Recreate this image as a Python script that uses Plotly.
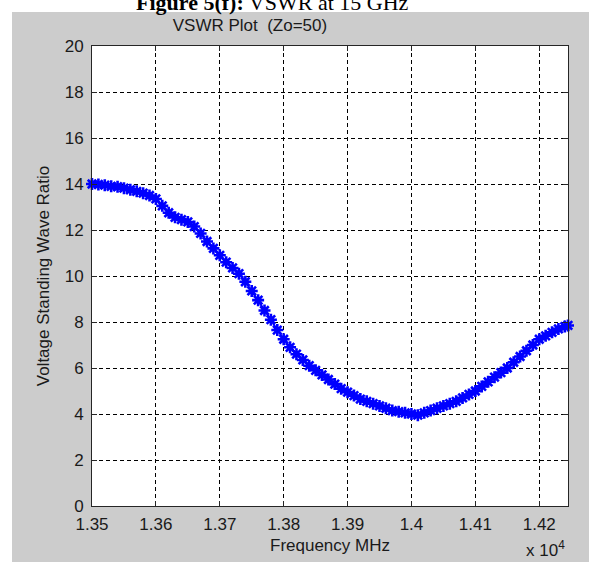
import plotly.graph_objects as go

# ---- data ----
freq_mhz = [13500, 13510, 13520, 13530, 13540, 13550, 13560, 13570, 13580, 13590,
            13600, 13610, 13620, 13630, 13640, 13650, 13660, 13670, 13680, 13690,
            13700, 13710, 13720, 13730, 13740, 13750, 13760, 13770, 13780, 13790,
            13800, 13810, 13820, 13830, 13840, 13850, 13860, 13870, 13880, 13890,
            13900, 13910, 13920, 13930, 13940, 13950, 13960, 13970, 13980, 13990,
            14000, 14010, 14020, 14030, 14040, 14050, 14060, 14070, 14080, 14090,
            14100, 14110, 14120, 14130, 14140, 14150, 14160, 14170, 14180, 14190,
            14200, 14210, 14220, 14230, 14240, 14245]
vswr = [14.0, 13.98, 13.95, 13.9, 13.88, 13.82, 13.75, 13.68, 13.6, 13.5,
        13.35, 13.05, 12.75, 12.55, 12.45, 12.35, 12.15, 11.85, 11.5, 11.2,
        10.9, 10.6, 10.35, 10.1, 9.75, 9.35, 8.95, 8.5, 8.1, 7.65,
        7.25, 6.9, 6.6, 6.35, 6.1, 5.9, 5.7, 5.5, 5.3, 5.1,
        4.95, 4.8, 4.65, 4.55, 4.45, 4.35, 4.25, 4.15, 4.1, 4.05,
        4.0, 3.95, 4.05, 4.15, 4.25, 4.35, 4.45, 4.55, 4.7, 4.85,
        5.0, 5.2, 5.4, 5.6, 5.8, 6.0, 6.25, 6.5, 6.75, 7.0,
        7.25, 7.4, 7.55, 7.7, 7.8, 7.85]
x_tick_vals = [13500, 13600, 13700, 13800, 13900, 14000, 14100, 14200]
x_tick_text = ["1.35", "1.36", "1.37", "1.38", "1.39", "1.4", "1.41", "1.42"]
y_tick_vals = [0, 2, 4, 6, 8, 10, 12, 14, 16, 18, 20]

# ---- layout geometry (pixels) ----
W, H = 589, 562
L, R, T, B = 92, 568, 46, 506
PW, PH = R - L, B - T


def px(x):
    return (x - L) / PW


def py(y):
    return (B - y) / PH


FONT = "Liberation Sans, Arial, sans-serif"
GRAY = "#cccccc"
TXT = "#1a1a1a"
FS = 17

fig = go.Figure()
fig.add_trace(go.Scatter(
    x=freq_mhz, y=vswr,
    mode="lines+markers",
    line=dict(color="#0000ff", width=2),
    marker=dict(symbol="asterisk-open", size=10,
                line=dict(color="#0000ff", width=2.6), color="#0000ff"),
    cliponaxis=False,
    showlegend=False,
))

axis_common = dict(
    showline=True, linecolor="#262626", linewidth=1, mirror="ticks",
    ticks="inside", ticklen=5, tickcolor="#262626", tickwidth=1,
    showgrid=True, gridcolor="#000000", gridwidth=1, griddash="4px,3px",
    zeroline=False,
    tickfont=dict(family=FONT, size=FS, color=TXT),
)

fig.update_layout(
    width=W, height=H,
    margin=dict(l=L, r=W - R, t=T, b=H - B, pad=0),
    paper_bgcolor=GRAY,
    plot_bgcolor="#ffffff",
    title=dict(text="VSWR Plot\u00a0\u00a0(Zo=50)", x=px(294), xanchor="center",
               y=1 - 25 / H, yanchor="middle",
               font=dict(family=FONT, size=FS, color=TXT)),
    xaxis=dict(range=[13500, 14245], tickvals=x_tick_vals, ticktext=x_tick_text,
               ticklabelstandoff=3,
               title=dict(text="Frequency MHz", standoff=5,
                          font=dict(family=FONT, size=FS, color=TXT)),
               **axis_common),
    yaxis=dict(range=[0, 20], tickvals=y_tick_vals, ticklabelstandoff=4,
               title=dict(text="Voltage Standing Wave Ratio", standoff=10,
                          font=dict(family=FONT, size=FS, color=TXT)),
               **axis_common),
    shapes=[
        dict(type="rect", xref="paper", yref="paper", layer="below",
             x0=px(0), x1=px(12), y0=py(H), y1=py(0),
             fillcolor="#ffffff", line=dict(width=0)),
        dict(type="rect", xref="paper", yref="paper", layer="below",
             x0=px(0), x1=px(W), y0=py(12), y1=py(0),
             fillcolor="#ffffff", line=dict(width=0)),
    ],
    annotations=[
        dict(text="x 10<sup>4</sup>", xref="paper", yref="paper",
             x=px(545), y=py(549), xanchor="center", yanchor="middle",
             showarrow=False, font=dict(family=FONT, size=FS, color=TXT)),
        dict(text="<b>Figure 5(f):</b> VSWR at 15 GHz", xref="paper", yref="paper",
             x=px(272), y=py(17), xanchor="center", yanchor="bottom",
             showarrow=False,
             font=dict(family="Liberation Serif, Times New Roman, serif", size=22,
                       color="#000000")),
    ],
)

fig.write_html("out.html")
